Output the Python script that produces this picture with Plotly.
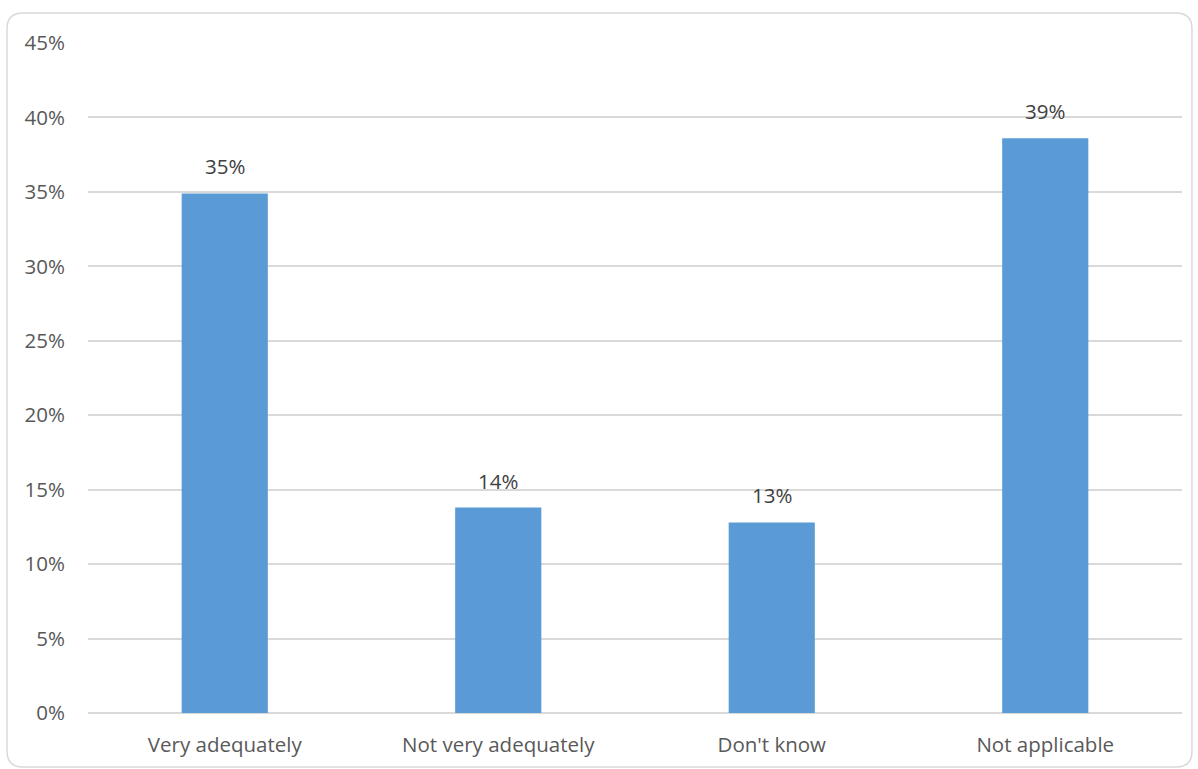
import plotly.graph_objects as go

categories = ["Very adequately", "Not very adequately", "Don't know", "Not applicable"]
shares = [0.349, 0.138, 0.128, 0.386]
y_ticks = [0, 0.05, 0.10, 0.15, 0.20, 0.25, 0.30, 0.35, 0.40, 0.45]
y_tick_labels = ["0%", "5%", "10%", "15%", "20%", "25%", "30%", "35%", "40%", "45%"]

W, H = 1198, 769
L, R, T, B = 88, 16, 43, 56
pw, ph = W - L - R, H - T - B

text_color = "#595959"
font_family = "Open Sans, Noto Sans, sans-serif"
font_size = 20.5

fig = go.Figure(
    go.Bar(
        x=categories,
        y=shares,
        marker=dict(color="#5B9BD5", line=dict(width=0)),
        width=0.315,
        hoverinfo="x+y",
    )
)

# value labels floating above each bar
for cat, val in zip(categories, shares):
    fig.add_annotation(
        x=cat, y=val, text=f"{val:.0%}",
        showarrow=False, yanchor="bottom", yshift=11,
        font=dict(size=font_size, color="#404040", family=font_family),
    )

# rounded outer frame, expressed in paper units around the plot area
def px_x(p):
    return (p - L) / pw

def px_y(p):
    return 1 - (p - T) / ph

x0, x1, y0, y1, r = 7, 1192, 13, 767, 16
path = (
    f"M {px_x(x0 + r)},{px_y(y0)} L {px_x(x1 - r)},{px_y(y0)} "
    f"Q {px_x(x1)},{px_y(y0)} {px_x(x1)},{px_y(y0 + r)} "
    f"L {px_x(x1)},{px_y(y1 - r)} "
    f"Q {px_x(x1)},{px_y(y1)} {px_x(x1 - r)},{px_y(y1)} "
    f"L {px_x(x0 + r)},{px_y(y1)} "
    f"Q {px_x(x0)},{px_y(y1)} {px_x(x0)},{px_y(y1 - r)} "
    f"L {px_x(x0)},{px_y(y0 + r)} "
    f"Q {px_x(x0)},{px_y(y0)} {px_x(x0 + r)},{px_y(y0)} Z"
)
fig.add_shape(type="path", path=path, xref="paper", yref="paper",
              line=dict(color="#D9D9D9", width=1.5), layer="below")

fig.update_layout(
    width=W,
    height=H,
    margin=dict(l=L, r=R, t=T, b=B, pad=0),
    paper_bgcolor="white",
    plot_bgcolor="white",
    showlegend=False,
    font=dict(family=font_family, color=text_color, size=font_size),
)
fig.update_xaxes(
    showgrid=False,
    showline=False,
    ticks="",
    tickfont=dict(size=font_size, color=text_color),
    ticklabelstandoff=17,
)
fig.update_yaxes(
    range=[0, 0.45],
    tickvals=y_ticks,
    ticktext=y_tick_labels,
    showgrid=True,
    gridcolor="#D9D9D9",
    gridwidth=1.5,
    zeroline=True,
    zerolinecolor="#D9D9D9",
    zerolinewidth=1.5,
    showline=False,
    ticks="",
    tickfont=dict(size=font_size, color=text_color),
    ticklabelstandoff=22,
)

fig.write_html("out.html")
